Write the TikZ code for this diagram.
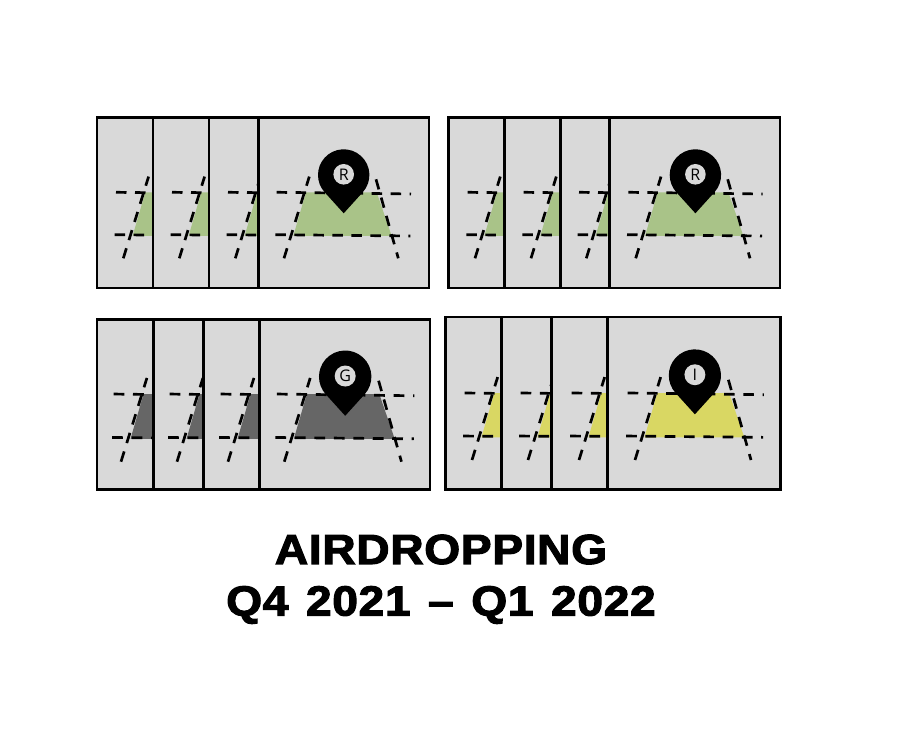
\documentclass[tikz,border=0pt]{standalone}
\usepackage{fontspec}
\usetikzlibrary{calc}
\setmainfont{Liberation Sans}
\newfontfamily\titlefont{Liberation Sans Bold}[FakeBold=2.6,FakeStretch=1.1,WordSpace=1.3,LetterSpace=1.5]
\newfontfamily\pinfont{Open Sans}
\definecolor{panelgray}{HTML}{D9D9D9}
\definecolor{zonegreen}{HTML}{A9C388}
\definecolor{zonedark}{HTML}{666666}
\definecolor{zoneyellow}{HTML}{D9D763}
\tikzset{
  panelbox/.style={draw=black,line width=2.8pt,line join=miter},
  panelfill/.style={fill=panelgray},
  gridline/.style={draw=black,line width=2.7pt},
  pinbody/.style={fill=black},
  pineye/.style={fill=panelgray},
  pinletter/.style={font=\pinfont\fontsize{16}{16}\selectfont,text=black,inner sep=0pt},
  headline/.style={font=\titlefont\fontsize{42}{42}\selectfont,text=black,inner sep=0pt,anchor=base},
}
% #1 base x, #2 base y (image px), #3 scale, #4 colour
\newcommand{\zonescene}[4]{%
  \begin{scope}[shift={(#1,750-#2)},scale=#3,gridline/.append style={dash pattern=on #3*10.5pt off #3*8.5pt}]
    \fill[#4] (22,66) -- (92.7,66) -- (107.7,22.3) -- (9.3,22.3) -- cycle;
    \draw[gridline] (-7.3,66) -- (127,64.3);
    \draw[gridline] (-8.7,23.6) -- (126.3,22.3);
    \draw[gridline] (0,0) -- (25.3,81.7);
    \draw[gridline] (92,79) -- (114.3,0);
  \end{scope}}
% #1 left, #2 right, #3 top, #4 bottom, #5 base x, #6 base y, #7 scale, #8 colour
\newcommand{\cardpanel}[8]{%
  \fill[panelfill] (#1,750-#3) rectangle (#2,750-#4);
  \begin{scope}
    \clip (#1,750-#3) rectangle (#2,750-#4);
    \zonescene{#5}{#6}{#7}{#8}
  \end{scope}
  \draw[panelbox] (#1,750-#3) rectangle (#2,750-#4);}
% #1 base x, #2 base y, #3 scale, #4 letter, #5 name
\newcommand{\mappin}[5]{%
  \begin{scope}[shift={(#1,750-#2)},scale=#3]
    \fill[pinbody] (59.7,45) -- ($(59.7,83.3)+(-42.1:25.7)$) arc[start angle=-42.1,end angle=222.1,radius=25.7] -- cycle;
    \fill[pineye] (59.7,84) circle[radius=10.3];
    \node[pinletter] (#5) at (59.7,84) {#4};
  \end{scope}}
\begin{document}
\begin{tikzpicture}[x=1pt,y=1pt]
\useasboundingbox (0,0) rectangle (900,750);
\fill[white] (0,0) rectangle (900,750);
% top left
\cardpanel{97}{153}{117.5}{288}{123.3}{258.3}{1}{zonegreen}
\cardpanel{153}{209}{117.5}{288}{179.3}{258.3}{1}{zonegreen}
\cardpanel{209}{258.3}{117.5}{288}{235.3}{258.3}{1}{zonegreen}
\cardpanel{258.3}{429}{117.5}{288}{284}{258.3}{1}{zonegreen}
\mappin{284}{258.3}{1}{R}{pinA}
% top right
\cardpanel{448.3}{504.3}{117.5}{288}{475}{258.3}{1}{zonegreen}
\cardpanel{504.3}{560.3}{117.5}{288}{531}{258.3}{1}{zonegreen}
\cardpanel{560.3}{609.3}{117.5}{288}{586.3}{258.3}{1}{zonegreen}
\cardpanel{609.3}{780}{117.5}{288}{635.7}{258.3}{1}{zonegreen}
\mappin{635.7}{258.3}{1}{R}{pinB}
% bottom left
\cardpanel{97}{153.3}{319.5}{489.5}{121}{461.7}{1.025}{zonedark}
\cardpanel{153.3}{203.7}{319.5}{489.5}{177}{461.7}{1.025}{zonedark}
\cardpanel{203.7}{259.3}{319.5}{489.5}{228}{461.7}{1.025}{zonedark}
\cardpanel{259.3}{430}{319.5}{489.5}{284.3}{461.7}{1.025}{zonedark}
\mappin{284.3}{461.7}{1.02}{G}{pinC}
% bottom right
\cardpanel{445.5}{501.7}{317}{489.5}{472}{460}{1.015}{zoneyellow}
\cardpanel{501.7}{551.7}{317}{489.5}{528}{460}{1.015}{zoneyellow}
\cardpanel{551.7}{607.7}{317}{489.5}{579}{460}{1.015}{zoneyellow}
\cardpanel{607.7}{780.7}{317}{489.5}{635}{460}{1.015}{zoneyellow}
\mappin{634.3}{460}{1.015}{I}{pinD}
% title
\node[headline] (titleA) at (441,750-564) {AIRDROPPING};
\node[headline] (titleB) at (441,750-615.5) {Q4 2021 – Q1 2022};
\end{tikzpicture}
\end{document}
